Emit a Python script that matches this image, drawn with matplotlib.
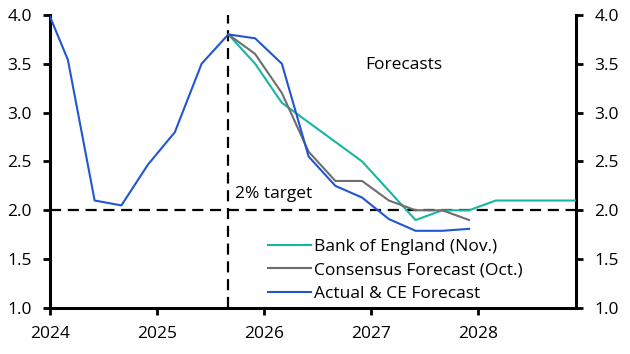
import matplotlib
matplotlib.use("Agg")
import matplotlib.pyplot as plt

plt.rcParams['font.family'] = ['Open Sans', 'DejaVu Sans']

# quarterly CPI inflation (% y/y), points placed at the middle-quarter month end
actual_q = [2023.917 + 0.25 * i for i in range(17)]  # Q4 2023 .. Q4 2027
actual = [4.2, 3.54, 2.1, 2.05, 2.47, 2.8, 3.5, 3.8,
          3.76, 3.5, 2.55, 2.25, 2.13, 1.91, 1.79, 1.79, 1.81]

cons_q = [2025.667 + 0.25 * i for i in range(10)]  # Q3 2025 .. Q4 2027
consensus = [3.8, 3.6, 3.2, 2.6, 2.3, 2.3, 2.1, 2.0, 2.0, 1.9]

boe_q = [2025.667 + 0.25 * i for i in range(14)]  # Q3 2025 .. Q4 2028
boe = [3.8, 3.5, 3.1, 2.9, 2.7, 2.5, 2.2, 1.9, 2.0, 2.0, 2.1, 2.1, 2.1, 2.1]

years = [2024, 2025, 2026, 2027, 2028]
forecast_start = 2025.667
target = 2.0

fig = plt.figure(figsize=(6.3, 3.54), dpi=100)
ax = fig.add_axes([0.0794, 0.130, 0.835, 0.828])

ax.plot(boe_q, boe, color='#17B5A3', lw=1.5, label='Bank of England (Nov.)', zorder=3)
ax.plot(cons_q, consensus, color='#6E6E6E', lw=1.5, label='Consensus Forecast (Oct.)', zorder=4)
ax.plot(actual_q, actual, color='#2156D0', lw=1.5, label='Actual & CE Forecast', zorder=5)

ax.axhline(target, color='black', lw=1.6, ls=(0, (5, 3)), zorder=2)
ax.axvline(forecast_start, color='black', lw=1.6, ls=(0, (5, 3)), zorder=2)

ax.set_xlim(2024.0, 2028.917)
ax.set_ylim(1.0, 4.0)
ax.set_xticks(years)
ax.set_xticklabels([str(y) for y in years])
ax.set_yticks([1.0, 1.5, 2.0, 2.5, 3.0, 3.5, 4.0])
ax.yaxis.set_major_formatter(matplotlib.ticker.FormatStrFormatter('%.1f'))

ax.spines['top'].set_visible(False)
for s in ['left', 'right', 'bottom']:
    ax.spines[s].set_linewidth(2.2)
ax.tick_params(axis='both', which='major', labelsize=12.5, width=2, length=5, pad=8,
               direction='out', right=True, labelright=True)

ax.text(2025.73, 2.17, '2% target', fontsize=12.5, va='center')
ax.text(2027.31, 3.49, 'Forecasts', fontsize=12.5, ha='center', va='center')

ax.legend(loc='center left', bbox_to_anchor=(0.414, 0.128), frameon=False, fontsize=12.5,
          handlelength=2.5, handletextpad=0.15, labelspacing=0.42,
          borderpad=0, borderaxespad=0)

fig.savefig('out.png', dpi=100)
